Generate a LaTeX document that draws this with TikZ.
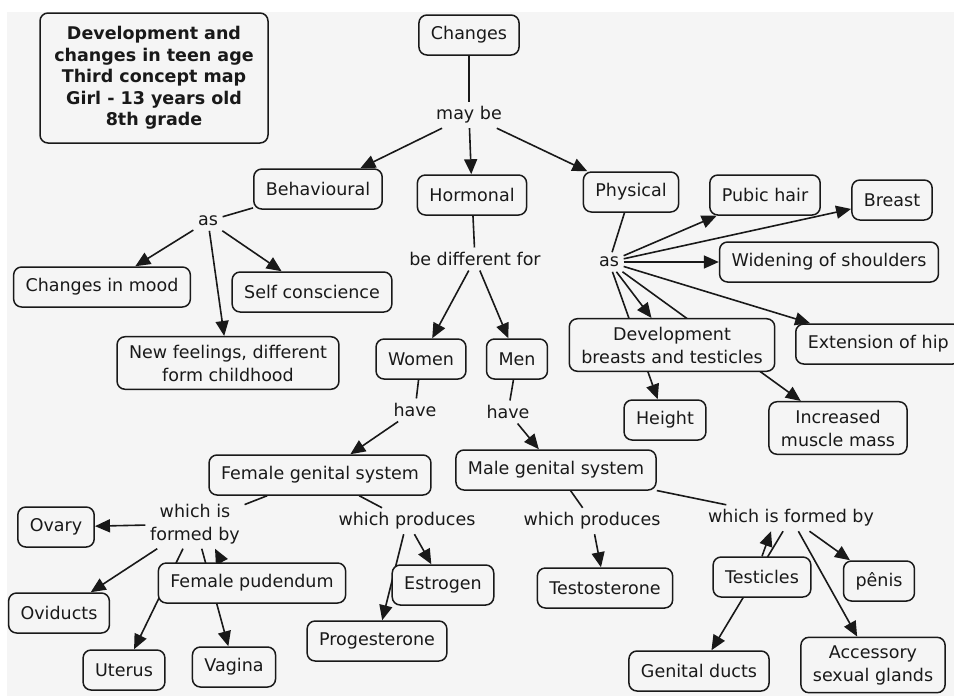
\documentclass[tikz,border=0pt]{standalone}
\usepackage{fontspec}
\setmainfont{DejaVu Sans}
\usetikzlibrary{arrows.meta,backgrounds}
\definecolor{paper}{RGB}{245,245,245}
\definecolor{ink}{RGB}{25,25,25}

\begin{document}
\begin{tikzpicture}[x=1pt,y=-1pt,line width=1.5pt,color=ink,font=\fontsize{17.5}{23}\selectfont,every on background layer/.style={line width=1.6pt,color=ink},concept/.style={shape=rectangle,rounded corners=8pt,draw=ink,fill=paper,align=center,inner xsep=12pt,inner ysep=8pt,minimum height=40pt},titlebox/.style={concept,font=\fontsize{17.5}{21.5}\selectfont\bfseries,minimum width=228pt,minimum height=130pt},link/.style={align=center,inner sep=4pt},arr/.style={-{Triangle[length=15pt,width=13pt]}}]
\useasboundingbox (0,0) rectangle (954,696);
\clip (0,0) rectangle (954,696);

\node[titlebox] (title) at (154,78) {Development and\\changes in teen age\\Third concept map\\Girl - 13 years old\\8th grade};

\node[concept] (changes) at (469,35) {Changes};
\node[link] (mayBe) at (469,115) {may be};
\node[concept] (behav) at (318,189) {Behavioural};
\node[concept] (hormo) at (472,195) {Hormonal};
\node[concept] (phys) at (631,192) {Physical};
\node[concept] (pubic) at (765,195) {Pubic hair};
\node[concept] (breast) at (892,200) {Breast};

\node[link] (asB) at (208,221) {as};
\node[concept] (mood) at (102,287) {Changes in mood};
\node[concept] (self) at (312,292) {Self conscience};
\node[concept] (feel) at (228,363) {New feelings, different\\form childhood};

\node[link] (diff) at (475,259) {be different for};
\node[concept] (women) at (421,359) {Women};
\node[concept] (men) at (517,359) {Men};

\node[link] (asP) at (609,262) {as};
\node[concept] (widen) at (829,262) {Widening of shoulders};
\node[concept,anchor=west] (hip) at (795,344) {Extension of hip};
\node[concept] (devel) at (672,345) {Development\\breasts and testicles};
\node[concept] (height) at (665,420) {Height};
\node[concept] (muscle) at (838,428) {Increased\\muscle mass};

\node[link] (haveW) at (415,410) {have};
\node[link] (haveM) at (508,412) {have};
\node[concept] (fgs) at (320,475) {Female genital system};
\node[concept] (mgs) at (556,470) {Male genital system};

\node[link] (formF) at (195,524) {which is\\formed by};
\node[link] (prodF) at (407,521) {which produces};
\node[concept] (ovary) at (56,527) {Ovary};
\node[concept] (pud) at (252,583) {Female pudendum};
\node[concept] (estro) at (443,585) {Estrogen};
\node[concept] (ovid) at (59,613) {Oviducts};
\node[concept] (proge) at (377,641) {Progesterone};
\node[concept] (uter) at (124,670) {Uterus};
\node[concept] (vag) at (234,667) {Vagina};

\node[link] (prodM) at (592,521) {which produces};
\node[link] (formM) at (791,518) {which is formed by};
\node[concept] (testo) at (605,588) {Testosterone};
\node[concept] (testi) at (762,577) {Testicles};
\node[concept] (penis) at (879,581) {pênis};
\node[concept] (ducts) at (699,671) {Genital ducts};
\node[concept] (gland) at (873,665) {Accessory\\sexual glands};

\begin{scope}[on background layer]
\fill[paper] (7,12) rectangle (954,696);

\draw (changes) -- (mayBe);
\draw[arr] (mayBe) -- (behav);
\draw[arr] (mayBe) -- (hormo);
\draw[arr] (mayBe) -- (phys);

\draw (behav) -- (asB);
\draw[arr] (asB) -- (mood);
\draw[arr] (asB) -- (self);
\draw[arr] (asB) -- (feel);

\draw (hormo) -- (diff);
\draw[arr] (diff) -- (women);
\draw[arr] (diff) -- (men);

\draw (phys) -- (asP);
\draw[arr] (asP) -- (pubic);
\draw[arr] (asP) -- (breast);
\draw[arr] (asP) -- (widen);
\draw[arr] (asP) -- (hip);
\draw[arr] (asP) -- (devel);
\draw[arr] (asP) -- (height);
\draw[arr] (asP) -- (muscle);

\draw (women) -- (haveW);
\draw[arr] (haveW) -- (fgs);
\draw (men) -- (haveM);
\draw[arr] (haveM) -- (mgs);

\draw (fgs) -- (formF);
\draw (fgs) -- (prodF);
\draw[arr] (formF) -- (ovary);
\draw[arr] (formF) -- (ovid);
\draw[arr] ([xshift=-30pt]pud.north) -- ([xshift=20pt]formF.south);
\draw[arr] (formF) -- (uter);
\draw[arr] (formF) -- (vag);
\draw[arr] (prodF) -- (estro);
\draw[arr] (prodF) -- (proge);

\draw (mgs) -- (prodM);
\draw (mgs) -- (formM);
\draw[arr] (prodM) -- (testo);
\draw[arr] (testi.north) -- ([xshift=-20pt]formM.south);
\draw[arr] (formM) -- (ducts);
\draw[arr] (formM) -- (penis);
\draw[arr] (formM) -- (gland);
\end{scope}
\end{tikzpicture}
\end{document}
